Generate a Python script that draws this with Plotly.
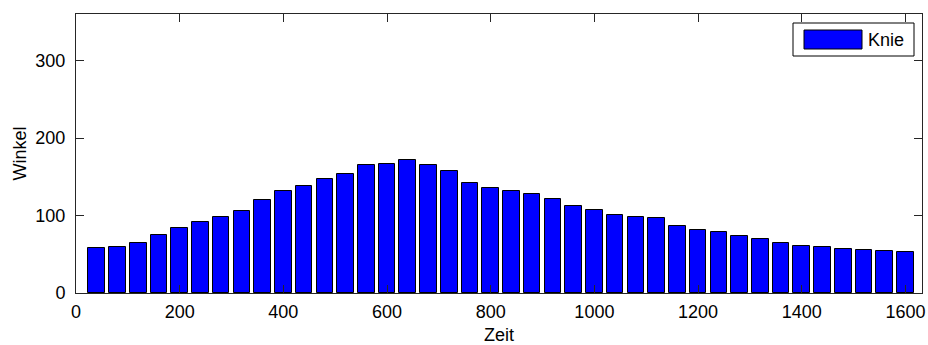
import plotly.graph_objects as go

zeit = [40 * (i + 1) for i in range(40)]
winkel = [57.5, 58.8, 64.4, 75.1, 84.5, 91.5, 98.3, 105.7, 120.6, 131.4,
          138.3, 147.3, 153.7, 165.7, 166.6, 171.4, 165.7, 157.2, 142.1, 136.1,
          131.4, 128.0, 121.9, 112.5, 106.9, 100.9, 97.9, 96.6, 87.1, 80.7,
          79.0, 73.0, 70.0, 64.8, 60.1, 58.8, 57.1, 55.8, 54.5, 53.2]
series_name = "Knie"
x_ticks = [0, 200, 400, 600, 800, 1000, 1200, 1400, 1600]
y_ticks = [0, 100, 200, 300]

FONT = "Liberation Sans, Arial, sans-serif"
FS = 18

fig = go.Figure()
fig.add_trace(go.Bar(
    x=zeit, y=winkel, name=series_name, width=32,
    marker=dict(color="#0000FF", line=dict(color="#000000", width=1)),
    showlegend=False,
))

axis_common = dict(
    showline=True, linecolor="#262626", linewidth=1, mirror="ticks",
    ticks="inside", ticklen=8, tickcolor="#262626", tickwidth=1,
    showgrid=False, zeroline=False, automargin=False,
    tickfont=dict(family=FONT, size=FS, color="#000000"),
)

fig.update_layout(
    width=928, height=345,
    margin=dict(l=76, r=6, t=14, b=52),
    paper_bgcolor="white", plot_bgcolor="white",
    bargap=0,
    xaxis=dict(range=[0, 1632], tickvals=x_ticks, ticklabelstandoff=2,
               title=dict(text="Zeit", font=dict(family=FONT, size=FS, color="#000"), standoff=8),
               **axis_common),
    yaxis=dict(range=[0, 360], tickvals=y_ticks, ticklabelstandoff=6,
               title=dict(text="Winkel", font=dict(family=FONT, size=FS, color="#000"), standoff=4),
               **axis_common),
    font=dict(family=FONT),
)

# legend drawn MATLAB-style (wide patch)
pl, pr, pt, pb = 76, 922, 14, 293

def px(x):
    return (x - pl) / (pr - pl)

def py(y):
    return (pb - y) / (pb - pt)

fig.add_shape(type="rect", xref="paper", yref="paper",
              x0=px(793), x1=px(914), y0=py(56), y1=py(23),
              line=dict(color="#000000", width=1), fillcolor="white")
fig.add_shape(type="rect", xref="paper", yref="paper",
              x0=px(804), x1=px(862), y0=py(49), y1=py(30),
              line=dict(color="#000000", width=1), fillcolor="#0000FF")
fig.add_annotation(xref="paper", yref="paper", x=px(866), y=py(40),
                   text=series_name, showarrow=False, xanchor="left", yanchor="middle",
                   font=dict(family=FONT, size=FS, color="#000"))

fig.write_html("out.html")
